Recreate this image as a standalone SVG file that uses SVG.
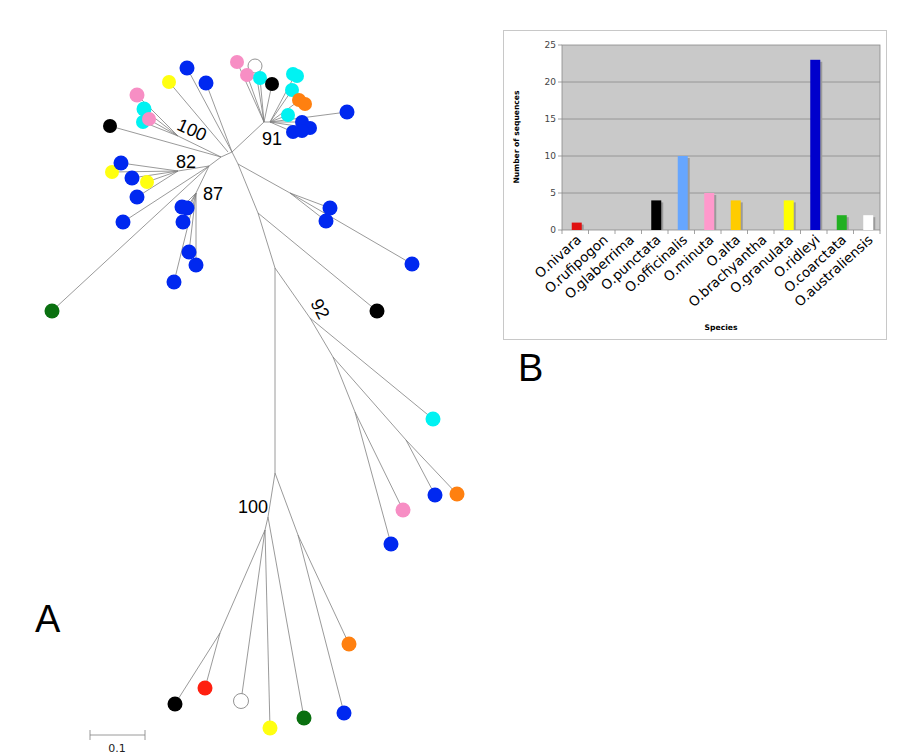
<svg xmlns="http://www.w3.org/2000/svg" width="913" height="756" viewBox="0 0 913 756">
<style>
.e{stroke:#808080;stroke-width:0.8;fill:none}
.bl{fill:#0028f0}.cy{fill:#00f2f2}.pk{fill:#f78ec4}.ye{fill:#ffff10}.or{fill:#ff8010}.bk{fill:#000}.gr{fill:#0a7010}.rd{fill:#ff2010}.wh{fill:#fff;stroke:#777;stroke-width:0.8}
.bs{font-family:"Liberation Sans",Arial,sans-serif;font-size:18px;fill:#000}
.big{font-family:"Liberation Sans",Arial,sans-serif;font-size:38px;fill:#000}
.yt{font-family:"DejaVu Sans",Verdana,sans-serif;font-size:9px;fill:#444;text-anchor:end}
.xt{font-family:"DejaVu Sans",Verdana,sans-serif;font-size:13.5px;fill:#000;text-anchor:end}
.ax{font-family:"DejaVu Sans",Verdana,sans-serif;font-size:7.6px;font-weight:bold;fill:#000;text-anchor:middle}
.grid{stroke:#8a8a8a;stroke-width:0.8}
.sh{fill:#9a9a9a}
</style>
<g id="connectors">
<path class="e" d="M232,152L264,122M264,122L270,122M232,152L221,157M232,152L238,164"/>
<path class="e" d="M264,122L237,62M264,122L255,66M264,122L247,75M264,122L260,78M264,122L272,84"/>
<path class="e" d="M270,122L295,75M270,122L292,90M270,122L300,100M270,122L288,115M270,122L302,122M270,122L293,132M270,122L310,128M270,122L347,112"/>
<path class="e" d="M232,152L187,68M232,152L206,83M228,152L169,82"/>
<path class="e" d="M221,157L110,126M221,157L178,136M178,136L137,95M178,136L143,109M178,136L143,122M178,136L148,119"/>
<path class="e" d="M221,157L209,166M209,166L178,171M178,171L121,163M178,171L112,172M178,171L132,178M178,171L147,182M178,171L137,197M209,166L123,222M209,166L52,311M209,166L196,193"/>
<path class="e" d="M196,193L182,207M196,193L187,208M196,193L183,222M196,193L189,252M196,193L196,265M196,193L174,282"/>
<path class="e" d="M238,164L290,193M290,193L330,208M290,193L326,221M290,193L412,264"/>
<path class="e" d="M238,164L258,213M258,213L377,311M258,213L275,268M275,268L310,318M310,318L433,419M310,318L333,357M333,357L406,440M406,440L457,494M406,440L435,495M333,357L355,412M355,412L403,510M355,412L391,544M275,268L275,473"/>
<path class="e" d="M275,473L268,517M275,473L298,535M268,517L265,530M265,530L220,633M220,633L175,704M220,633L205,688M265,530L241,701M265,530L270,728M268,517L304,718M298,535L344,713M298,535L349,644"/>
<path class="e" d="M90,735H145M90,730V740M145,730V740"/>
</g>
<g id="tips">
<circle class="pk" cx="237" cy="62" r="7"/>
<circle class="wh" cx="255" cy="66" r="7"/>
<circle class="pk" cx="247" cy="75" r="7"/>
<circle class="cy" cx="260" cy="78" r="7"/>
<circle class="bk" cx="272" cy="84" r="7"/>
<circle class="cy" cx="293" cy="74" r="7"/>
<circle class="cy" cx="297" cy="76" r="7"/>
<circle class="cy" cx="292" cy="90" r="7"/>
<circle class="or" cx="299" cy="100" r="7"/>
<circle class="or" cx="305" cy="104" r="7"/>
<circle class="cy" cx="288" cy="115" r="7"/>
<circle class="bl" cx="302" cy="122" r="7"/>
<circle class="bl" cx="310" cy="128" r="7"/>
<circle class="bl" cx="293" cy="132" r="7"/>
<circle class="bl" cx="302" cy="131" r="7"/>
<circle class="bl" cx="347" cy="112" r="7.5"/>
<circle class="bl" cx="187" cy="68" r="7.5"/>
<circle class="bl" cx="206" cy="83" r="7.5"/>
<circle class="ye" cx="169" cy="82" r="7"/>
<circle class="pk" cx="137" cy="95" r="7.5"/>
<circle class="cy" cx="144" cy="109" r="7.5"/>
<circle class="cy" cx="143" cy="122" r="7"/>
<circle class="pk" cx="149" cy="119" r="7"/>
<circle class="bk" cx="110" cy="126" r="7"/>
<circle class="ye" cx="112" cy="172" r="7"/>
<circle class="bl" cx="121" cy="163" r="7.5"/>
<circle class="bl" cx="132" cy="178" r="7.5"/>
<circle class="ye" cx="147" cy="182" r="7"/>
<circle class="bl" cx="137" cy="197" r="7.5"/>
<circle class="bl" cx="123" cy="222" r="7.5"/>
<circle class="bl" cx="182" cy="207" r="7.5"/>
<circle class="bl" cx="187" cy="208" r="7.5"/>
<circle class="bl" cx="183" cy="222" r="7.5"/>
<circle class="bl" cx="189" cy="252" r="7.5"/>
<circle class="bl" cx="196" cy="265" r="7.5"/>
<circle class="bl" cx="174" cy="282" r="7.5"/>
<circle class="gr" cx="52" cy="311" r="7.5"/>
<circle class="bl" cx="330" cy="208" r="7.5"/>
<circle class="bl" cx="326" cy="221" r="7.5"/>
<circle class="bl" cx="412" cy="264" r="7.5"/>
<circle class="bk" cx="377" cy="311" r="7.5"/>
<circle class="cy" cx="433" cy="419" r="7.5"/>
<circle class="bl" cx="435" cy="495" r="7.5"/>
<circle class="or" cx="457" cy="494" r="7.5"/>
<circle class="pk" cx="403" cy="510" r="7.5"/>
<circle class="bl" cx="391" cy="544" r="7.5"/>
<circle class="or" cx="349" cy="644" r="7.5"/>
<circle class="rd" cx="205" cy="688" r="7.5"/>
<circle class="wh" cx="241" cy="701" r="7.5"/>
<circle class="bk" cx="175" cy="704" r="7.5"/>
<circle class="ye" cx="270" cy="728" r="7.5"/>
<circle class="gr" cx="304" cy="718" r="7.5"/>
<circle class="bl" cx="344" cy="713" r="7.5"/>
</g>
<g id="tree-labels">
<text class="bs" x="192" y="136" text-anchor="middle" transform="rotate(24 192 130)">100</text>
<text class="bs" x="272" y="145" text-anchor="middle">91</text>
<text class="bs" x="186" y="168" text-anchor="middle">82</text>
<text class="bs" x="213" y="200" text-anchor="middle">87</text>
<text class="bs" x="320" y="315" text-anchor="middle" transform="rotate(62 320 309)">92</text>
<text class="bs" x="253" y="513" text-anchor="middle">100</text>
<text x="117" y="752" text-anchor="middle" style="font-family:'DejaVu Sans',sans-serif;font-size:11px;fill:#222">0.1</text>
<text class="big" x="35" y="632">A</text>
<text class="big" x="518" y="381">B</text>
</g>
<g id="chart">
<rect x="503.5" y="30.5" width="383" height="309" fill="#fff" stroke="#c8c8c8"/>
<rect x="562" y="45" width="318" height="185" fill="#c9c9c9" stroke="#8a8a8a" stroke-width="0.8"/>
<path class="grid" d="M562,82H880M562,119H880M562,156H880M562,193H880M558,45H562M558,82H562M558,119H562M558,156H562M558,193H562M558,230H562"/>
<path class="grid" d="M562,230V234M588.5,230V234M615,230V234M641.5,230V234M668,230V234M694.5,230V234M721,230V234M747.5,230V234M774,230V234M800.5,230V234M827,230V234M853.5,230V234M880,230V234"/>
<text class="yt" x="556" y="48">25</text>
<text class="yt" x="556" y="85">20</text>
<text class="yt" x="556" y="122">15</text>
<text class="yt" x="556" y="159">10</text>
<text class="yt" x="556" y="196">5</text>
<text class="yt" x="556" y="233">0</text>
<g id="bars">
<rect class="sh" x="573.75" y="224.6" width="10" height="5.4"/>
<rect x="571.75" y="222.6" width="10" height="7.4" fill="#e01010"/>
<rect class="sh" x="653.25" y="202.4" width="10" height="27.6"/>
<rect x="651.25" y="200.4" width="10" height="29.6" fill="#000"/>
<rect class="sh" x="679.75" y="158" width="10" height="72"/>
<rect x="677.75" y="156" width="10" height="74" fill="#66a6ff"/>
<rect class="sh" x="706.25" y="195" width="10" height="35"/>
<rect x="704.25" y="193" width="10" height="37" fill="#ff99cc"/>
<rect class="sh" x="732.75" y="202.4" width="10" height="27.6"/>
<rect x="730.75" y="200.4" width="10" height="29.6" fill="#ffcc00"/>
<rect class="sh" x="785.75" y="202.4" width="10" height="27.6"/>
<rect x="783.75" y="200.4" width="10" height="29.6" fill="#ffff00"/>
<rect class="sh" x="812.25" y="61.8" width="10" height="168.2"/>
<rect x="810.25" y="59.8" width="10" height="170.2" fill="#0000cc"/>
<rect class="sh" x="838.75" y="217.2" width="10" height="12.8"/>
<rect x="836.75" y="215.2" width="10" height="14.8" fill="#22b022"/>
<rect class="sh" x="865.25" y="217.2" width="10" height="12.8"/>
<rect x="863.25" y="215.2" width="10" height="14.8" fill="#fff"/>
</g>
<text class="xt" transform="translate(582.25,241) rotate(-42)">O.nivara</text>
<text class="xt" transform="translate(608.75,241) rotate(-42)">O.rufipogon</text>
<text class="xt" transform="translate(635.25,241) rotate(-42)">O.glaberrima</text>
<text class="xt" transform="translate(661.75,241) rotate(-42)">O.punctata</text>
<text class="xt" transform="translate(688.25,241) rotate(-42)">O.officinalis</text>
<text class="xt" transform="translate(714.75,241) rotate(-42)">O.minuta</text>
<text class="xt" transform="translate(741.25,241) rotate(-42)">O.alta</text>
<text class="xt" transform="translate(767.75,241) rotate(-42)">O.brachyantha</text>
<text class="xt" transform="translate(794.25,241) rotate(-42)">O.granulata</text>
<text class="xt" transform="translate(820.75,241) rotate(-42)">O.ridleyi</text>
<text class="xt" transform="translate(847.25,241) rotate(-42)">O.coarctata</text>
<text class="xt" transform="translate(873.75,241) rotate(-42)">O.australiensis</text>
<text class="ax" x="721" y="330">Species</text>
<text class="ax" transform="translate(519,137) rotate(-90)">Number of sequences</text>
</g>
</svg>
